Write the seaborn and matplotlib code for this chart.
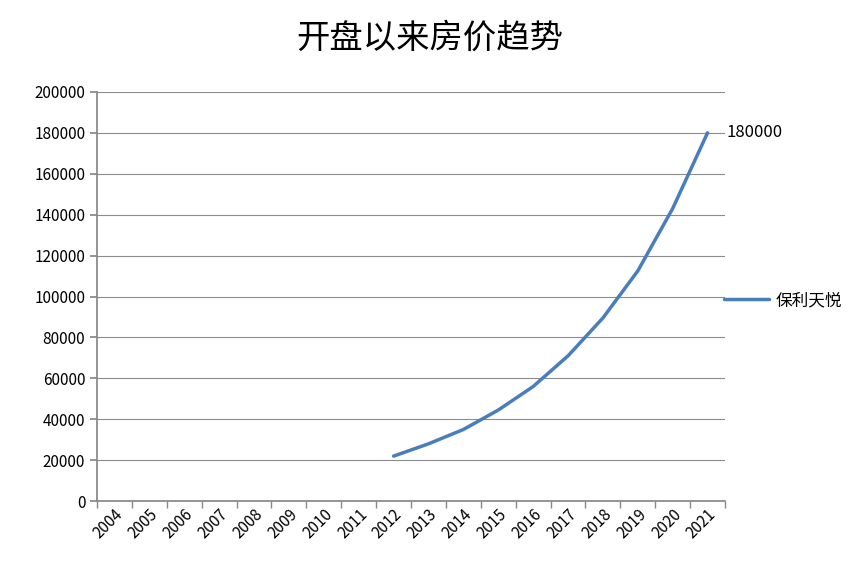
import seaborn as sns
import matplotlib.pyplot as plt
import pandas as pd

years = [str(y) for y in range(2004, 2022)]
prices = [None] * 8 + [22000, 28000, 35000, 44500, 56000, 71000, 89500, 112500, 143000, 180000]
series_name = "保利天悦"

sns.set_theme(style="white")
plt.rcParams["font.family"] = ["Noto Sans CJK SC", "DejaVu Sans"]
plt.rcParams["text.color"] = "black"
plt.rcParams["xtick.color"] = "black"
plt.rcParams["ytick.color"] = "black"

df = pd.DataFrame({"year": years, "price": prices})

fig = plt.figure(figsize=(8.59, 5.78), dpi=100)
ax = fig.add_axes([0.113, 0.133, 0.731, 0.708])
x = list(range(len(years)))
sns.lineplot(x=x, y=df["price"], ax=ax, color="#4a7ebb", linewidth=2.5)

ax.set_xlim(-0.5, len(years) - 0.5)
ax.set_ylim(0, 200000)
ax.set_yticks(range(0, 200001, 20000))
ax.set_yticklabels([str(v) for v in range(0, 200001, 20000)], fontsize=11)
ax.set_xticks(x)
ax.set_xticklabels(years, rotation=45, ha="right", rotation_mode="anchor", fontsize=11)
ax.set_xticks([i - 0.5 for i in range(len(years) + 1)], minor=True)
ax.tick_params(axis="x", which="minor", length=5, color="#888888", bottom=True)
ax.tick_params(axis="x", which="major", length=0)
ax.tick_params(axis="y", length=5, color="#888888", left=True)
ax.grid(axis="y", color="#8c8c8c", linewidth=0.8)
for s in ["top", "right"]:
    ax.spines[s].set_visible(False)
for s in ["left", "bottom"]:
    ax.spines[s].set_color("#888888")
ax.set_xlabel("")
ax.set_ylabel("")

ax.annotate("180000", (x[-1], prices[-1]), xytext=(14, 0), textcoords="offset points",
            va="center", fontsize=12, annotation_clip=False)
ax.plot([], [], color="#4a7ebb", linewidth=2.5, label=series_name)
leg = ax.legend(loc="center left", bbox_to_anchor=(0.975, 0.49), frameon=False,
                fontsize=12, handlelength=2.7, handletextpad=0.4)
fig.suptitle("开盘以来房价趋势", fontsize=24, y=0.965)

fig.savefig("out.png", dpi=100)
